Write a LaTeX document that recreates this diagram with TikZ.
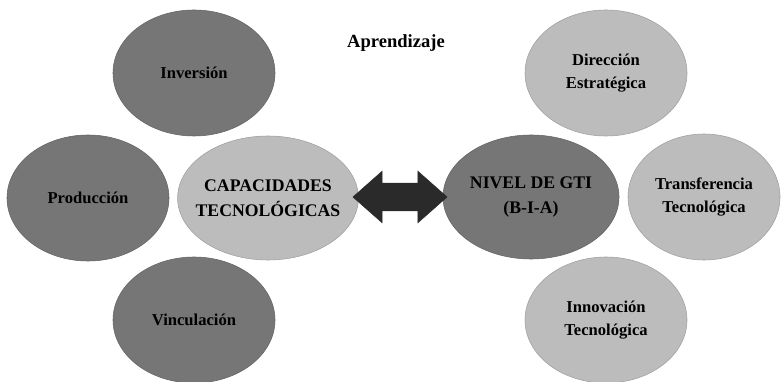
\documentclass[tikz,border=0pt]{standalone}
\usepackage{fontspec}
\setmainfont{Liberation Serif}
\definecolor{darkgrey}{RGB}{118,118,118}
\definecolor{lightgrey}{RGB}{188,188,188}
\definecolor{arrowgrey}{RGB}{42,42,42}
\usetikzlibrary{shapes.geometric,shapes.arrows}
\tikzstyle{darkNode} = [
 ellipse,
 draw=darkgrey!85!black,
 fill=darkgrey,
 align = center,
 inner sep = 0pt,
 minimum width = 4.05cm,
 minimum height = 3.15cm,
 font = \fontsize{11.8}{16.5}\selectfont\bfseries
]
\tikzstyle{lightNode} = [
 ellipse,
 draw=lightgrey!85!black,
 fill=lightgrey,
 align = center,
 inner sep = 0pt,
 minimum width = 4.05cm,
 minimum height = 3.15cm,
 font = \fontsize{11.8}{16.5}\selectfont\bfseries
]
\tikzstyle{coreNode} = [
 inner xsep = -6pt,
 minimum width = 4.4cm,
 minimum height = 3.1cm,
 font = \fontsize{12.6}{17.8}\selectfont\bfseries
]

\begin{document}
\begin{tikzpicture}
  \useasboundingbox (0,0) rectangle (19.525,9.525);
  % capacidades
  \node [darkNode] (inv) at (4.85,7.70) {Inversión};
  \node [darkNode] (prod) at (2.20,4.575) {Producción};
  \node [darkNode] (vinc) at (4.85,1.525) {Vinculación};
  \node [lightNode, coreNode] (cap) at (6.70,4.575) {CAPACIDADES\\TECNOLÓGICAS};
  % nivel de gti
  \node [darkNode, coreNode] (gti) at (13.275,4.60) {NIVEL DE GTI\\(B-I-A)};
  \node [lightNode] (dir) at (15.15,7.70) {Dirección\\Estratégica};
  \node [lightNode, minimum width = 3.8cm] (trans) at (17.60,4.60) {Transferencia\\Tecnológica};
  \node [lightNode] (innov) at (15.15,1.525) {Innovación\\Tecnológica};
  \node [font = \fontsize{13.2}{16}\selectfont\bfseries] (apr) at (9.9,8.45) {Aprendizaje};
  % flecha doble
  \node [double arrow, fill=arrowgrey, draw=arrowgrey,
         inner xsep=0pt, inner ysep=0.3375cm, minimum height = 2.35cm,
         double arrow head extend = 0.3cm, double arrow tip angle = 83]
        (link) at (10.0,4.6) {};
\end{tikzpicture}
\end{document}
